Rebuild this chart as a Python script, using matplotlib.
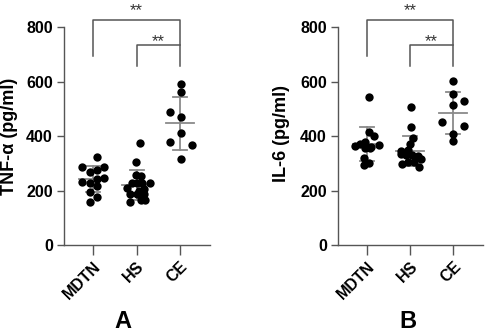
import numpy as np
import matplotlib
matplotlib.use("Agg")
import matplotlib.pyplot as plt

plt.rcParams['font.family'] = ['Liberation Sans', 'DejaVu Sans']

categories = ["MDTN", "HS", "CE"]

# Panel A: TNF-alpha (pg/ml)
tnf_mdtn = [324, 287, 287, 267, 275, 232, 229, 242, 245, 216, 196, 175, 159]
tnf_mdtn_jit = [0.1, -0.26, 0.26, -0.08, 0.1, -0.26, -0.08, 0.1, 0.26, 0.1, -0.08, 0.1, -0.08]
tnf_hs = [373, 303, 258, 255, 226, 226, 226, 226, 208, 205, 200, 187, 187, 187, 165, 165, 157]
tnf_hs_jit = [0.08, -0.02, -0.02, 0.1, -0.1, 0.02, 0.13, 0.3, -0.23, 0.18, 0.06, -0.14, 0.0, 0.18, 0.1, 0.2, -0.14]
tnf_ce = [591, 560, 488, 471, 410, 377, 367, 315]
tnf_ce_jit = [0.02, 0.02, -0.23, 0.02, 0.02, -0.23, 0.28, 0.02]

# Panel B: IL-6 (pg/ml)
il6_mdtn = [544, 416, 401, 377, 371, 367, 365, 360, 355, 355, 321, 300, 294]
il6_mdtn_jit = [0.05, 0.05, 0.16, -0.05, -0.16, 0.28, -0.28, 0.09, 0.07, -0.05, -0.06, 0.05, -0.06]
il6_hs = [508, 434, 392, 371, 346, 350, 340, 335, 330, 330, 328, 320, 314, 305, 305, 297, 285]
il6_hs_jit = [0.02, 0.02, 0.06, 0.0, -0.22, -0.05, -0.1, -0.2, -0.09, 0.05, 0.19, 0.14, 0.25, -0.05, 0.1, -0.18, 0.2]
il6_ce = [603, 554, 528, 514, 450, 438, 407, 382]
il6_ce_jit = [0.0, 0.0, 0.26, 0.0, -0.26, 0.26, 0.0, 0.0]

yticks = [0, 200, 400, 600, 800]
panels = [
    dict(label="A", ylabel="TNF-α (pg/ml)",
         data=[tnf_mdtn, tnf_hs, tnf_ce], jit=[tnf_mdtn_jit, tnf_hs_jit, tnf_ce_jit]),
    dict(label="B", ylabel="IL-6 (pg/ml)",
         data=[il6_mdtn, il6_hs, il6_ce], jit=[il6_mdtn_jit, il6_hs_jit, il6_ce_jit]),
]
sig_labels = ["**", "**"]

W, H = 486, 331
fig = plt.figure(figsize=(W / 100, H / 100), dpi=100)
axes_px = [(64, 27, 146, 218), (338, 27, 145, 218)]
ylabel_px = [(10, 136), (281, 133)]
panel_label_px = [(123, 321), (408, 321)]
axis_col = "#555555"
line_col = "#8a8a8a"

for p, (l, t, w, h), (lx, ly), (px, py) in zip(panels, axes_px, ylabel_px, panel_label_px):
    ax = fig.add_axes([l / W, 1 - (t + h) / H, w / W, h / H])
    for i, (vals, jit) in enumerate(zip(p["data"], p["jit"])):
        vals = np.array(vals, dtype=float)
        x = i + np.array(jit)
        ax.scatter(x, vals, s=36, color="black", zorder=3, linewidths=0)
        m = vals.mean()
        sd = vals.std(ddof=1)
        ax.plot([i - 0.33, i + 0.33], [m, m], color=line_col, lw=1.3, zorder=2)
        ax.plot([i, i], [m - sd, m + sd], color=line_col, lw=1.3, zorder=2)
        for yy in (m - sd, m + sd):
            ax.plot([i - 0.16, i + 0.16], [yy, yy], color=line_col, lw=1.3, zorder=2)
    ax.set_xlim(-0.67, 2.69)
    ax.set_ylim(0, 800)
    ax.set_yticks(yticks)
    ax.set_xticks(range(len(categories)))
    ax.set_xticklabels(categories, rotation=45, ha="right", va="top",
                       rotation_mode="anchor", fontsize=11.5, fontweight="bold")
    ax.set_yticklabels([str(v) for v in yticks], fontsize=11.5, fontweight="bold")
    for s in ("top", "right"):
        ax.spines[s].set_visible(False)
    for s in ("left", "bottom"):
        ax.spines[s].set_color(axis_col)
        ax.spines[s].set_linewidth(1.0)
    ax.tick_params(axis="y", length=5, width=1.0, color=axis_col, pad=3)
    ax.tick_params(axis="x", length=7, width=1.0, color=axis_col, pad=3)
    fig.text(lx / W, 1 - ly / H, p["ylabel"], rotation=90, ha="center", va="center",
             fontsize=13, fontweight="bold")
    # significance brackets
    ax.plot([0, 0, 2, 2], [694, 826, 826, 657], color=axis_col, lw=1.1, clip_on=False)
    ax.plot([1, 1, 2], [657, 734, 734], color=axis_col, lw=1.1, clip_on=False)
    ax.text(1.0, 842, sig_labels[0], ha="center", va="baseline", fontsize=12, color="#333333", clip_on=False)
    ax.text(1.5, 731, sig_labels[1], ha="center", va="baseline", fontsize=12, color="#333333", clip_on=False)
    fig.text(px / W, 1 - py / H, p["label"], ha="center", va="center",
             fontsize=17, fontweight="bold")

fig.savefig("out.png", dpi=100)
